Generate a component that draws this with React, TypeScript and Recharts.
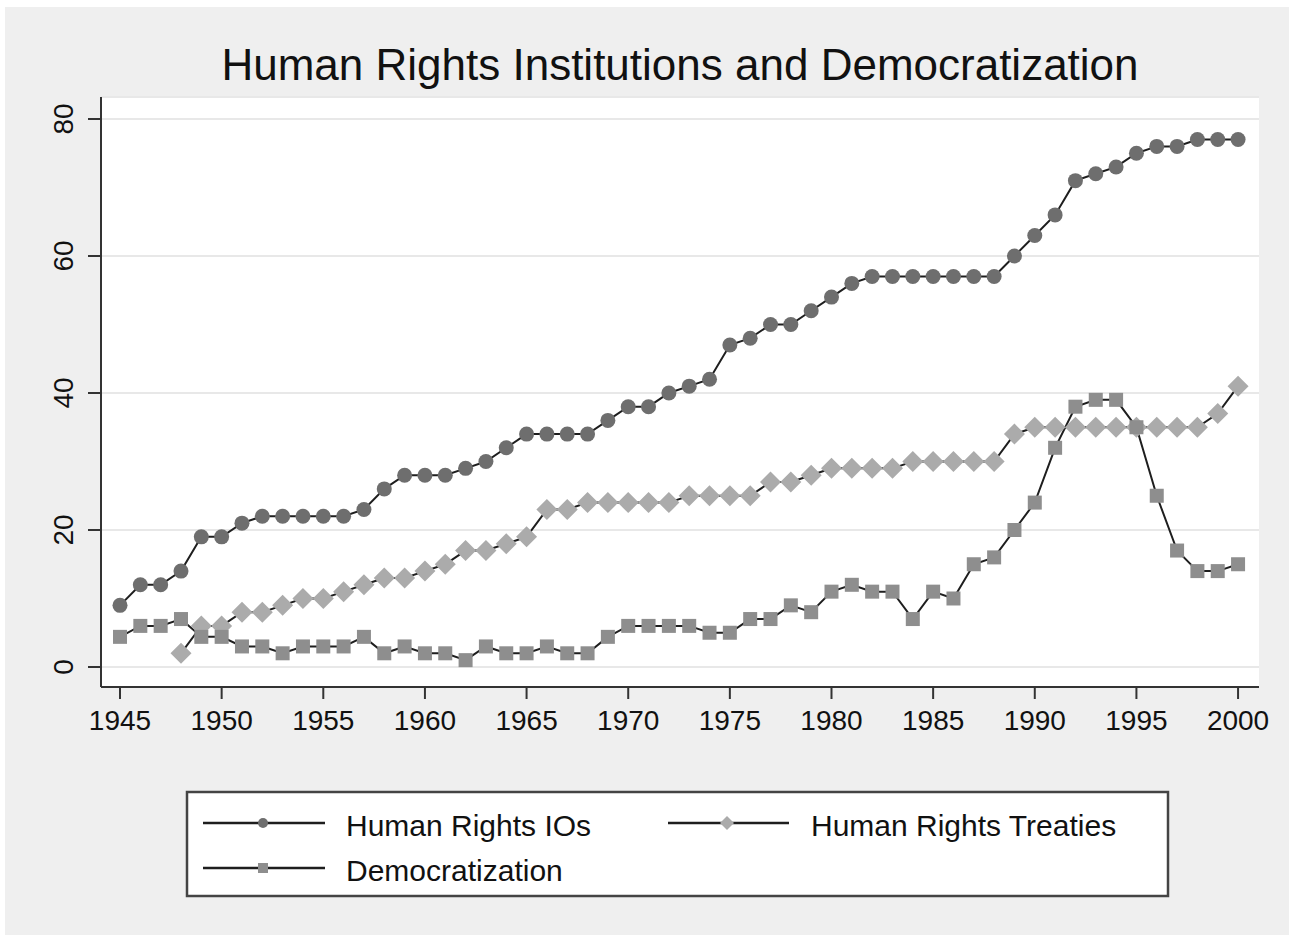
import { CartesianGrid, Line, LineChart, XAxis, YAxis } from "recharts";

const years = [
  1945, 1946, 1947, 1948, 1949, 1950, 1951, 1952, 1953, 1954,
  1955, 1956, 1957, 1958, 1959, 1960, 1961, 1962, 1963, 1964,
  1965, 1966, 1967, 1968, 1969, 1970, 1971, 1972, 1973, 1974,
  1975, 1976, 1977, 1978, 1979, 1980, 1981, 1982, 1983, 1984,
  1985, 1986, 1987, 1988, 1989, 1990, 1991, 1992, 1993, 1994,
  1995, 1996, 1997, 1998, 1999, 2000,
];

const humanRightsIOs = [
  9, 12, 12, 14, 19, 19, 21, 22, 22, 22,
  22, 22, 23, 26, 28, 28, 28, 29, 30, 32,
  34, 34, 34, 34, 36, 38, 38, 40, 41, 42,
  47, 48, 50, 50, 52, 54, 56, 57, 57, 57,
  57, 57, 57, 57, 60, 63, 66, 71, 72, 73,
  75, 76, 76, 77, 77, 77,
];

const humanRightsTreaties = [
  null, null, null, 2, 6, 6, 8, 8, 9, 10,
  10, 11, 12, 13, 13, 14, 15, 17, 17, 18,
  19, 23, 23, 24, 24, 24, 24, 24, 25, 25,
  25, 25, 27, 27, 28, 29, 29, 29, 29, 30,
  30, 30, 30, 30, 34, 35, 35, 35, 35, 35,
  35, 35, 35, 35, 37, 41,
];

const democratization = [
  4.4, 6, 6, 7, 4.4, 4.4, 3, 3, 2, 3,
  3, 3, 4.4, 2, 3, 2, 2, 1, 3, 2,
  2, 3, 2, 2, 4.4, 6, 6, 6, 6, 5,
  5, 7, 7, 9, 8, 11, 12, 11, 11, 7,
  11, 10, 15, 16, 20, 24, 32, 38, 39, 39,
  35, 25, 17, 14, 14, 15,
];

const yTicks = [0, 20, 40, 60, 80];
const xTicks = [1945, 1950, 1955, 1960, 1965, 1970, 1975, 1980, 1985, 1990, 1995, 2000];

const data = years.map((year, i) => ({
  year,
  ios: humanRightsIOs[i],
  treaties: humanRightsTreaties[i],
  democ: democratization[i],
}));

const FONT = "'Liberation Sans', Arial, Helvetica, sans-serif";
const LINE = "#1e1e1e";
const C_IO = "#6e6e6e";
const C_TR = "#ababab";
const C_DE = "#8e8e8e";

const circleDot = (props: any) => {
  const { cx, cy, index } = props;
  if (cx == null || cy == null) return <g key={index} />;
  return <circle key={index} cx={cx} cy={cy} r={7.5} fill={C_IO} />;
};

const diamondDot = (props: any) => {
  const { cx, cy, index, value } = props;
  if (cx == null || cy == null || value == null) return <g key={index} />;
  const s = 10.5;
  return (
    <polygon
      key={index}
      points={`${cx},${cy - s} ${cx + s},${cy} ${cx},${cy + s} ${cx - s},${cy}`}
      fill={C_TR}
    />
  );
};

const squareDot = (props: any) => {
  const { cx, cy, index } = props;
  if (cx == null || cy == null) return <g key={index} />;
  return <rect key={index} x={cx - 7} y={cy - 7} width={14} height={14} fill={C_DE} />;
};

const YTick = (props: any) => {
  const { y, payload } = props;
  const x = 64;
  return (
    <text
      x={x}
      y={y}
      transform={`rotate(-90, ${x}, ${y})`}
      textAnchor="middle"
      dominantBaseline="central"
      fontSize={28}
      fontFamily={FONT}
      fill="#111"
    >
      {payload.value}
    </text>
  );
};

const XTick = (props: any) => {
  const { x, y, payload } = props;
  return (
    <text x={x} y={y} dy={29} textAnchor="middle" fontSize={28} fontFamily={FONT} fill="#111">
      {payload.value}
    </text>
  );
};

function LegendBox() {
  const lx = 187;
  const ly = 792;
  return (
    <svg
      width={1294}
      height={940}
      style={{ position: "absolute", left: 0, top: 0, pointerEvents: "none" }}
    >
      <text x={680} y={80} textAnchor="middle" fontSize={44} fontFamily={FONT} fill="#111">
        Human Rights Institutions and Democratization
      </text>
      <rect x={lx} y={ly} width={981} height={104} fill="#fff" stroke="#444" strokeWidth={2.5} />
      {/* row 1 */}
      <line x1={203} x2={325} y1={823} y2={823} stroke={LINE} strokeWidth={2.5} />
      <circle cx={263} cy={823} r={5} fill={C_IO} />
      <text x={346} y={836} fontSize={30} fontFamily={FONT} fill="#111">
        Human Rights IOs
      </text>
      <line x1={668} x2={789} y1={823} y2={823} stroke={LINE} strokeWidth={2.5} />
      <polygon points="727,816 734,823 727,830 720,823" fill={C_TR} />
      <text x={811} y={836} fontSize={30} fontFamily={FONT} fill="#111">
        Human Rights Treaties
      </text>
      {/* row 2 */}
      <line x1={203} x2={325} y1={868} y2={868} stroke={LINE} strokeWidth={2.5} />
      <rect x={258} y={863} width={10} height={10} fill={C_DE} />
      <text x={346} y={881} fontSize={30} fontFamily={FONT} fill="#111">
        Democratization
      </text>
    </svg>
  );
}

export default function App() {
  return (
    <div style={{ position: "relative", width: 1294, height: 940, background: "#fff" }}>
      <style>{`body{margin:0}`}</style>
      <div
        style={{ position: "absolute", left: 5, top: 7, width: 1284, height: 928, background: "#efefef" }}
      />
      <div style={{ position: "absolute", left: 0, top: 0 }}>
        <LineChart
          width={1294}
          height={940}
          data={data}
          margin={{ top: 97, right: 35, bottom: 193, left: 41 }}
        >
          <CartesianGrid vertical={false} stroke="#e8e8e8" strokeWidth={2} fill="#fff" />
          <XAxis
            dataKey="year"
            type="number"
            domain={[1944.065, 2001.03]}
            ticks={xTicks}
            height={60}
            tickSize={12}
            stroke="#333"
            strokeWidth={2}
            tick={<XTick />}
            interval={0}
          />
          <YAxis
            type="number"
            domain={[-2.92, 83.21]}
            ticks={yTicks}
            width={60}
            tickSize={13}
            stroke="#333"
            strokeWidth={2}
            tick={<YTick />}
            interval={0}
            allowDataOverflow
          />
          <Line
            dataKey="ios"
            stroke={LINE}
            strokeWidth={2}
            dot={circleDot}
            activeDot={false}
            isAnimationActive={false}
            type="linear"
          />
          <Line
            dataKey="treaties"
            stroke={LINE}
            strokeWidth={2}
            dot={diamondDot}
            activeDot={false}
            isAnimationActive={false}
            type="linear"
          />
          <Line
            dataKey="democ"
            stroke={LINE}
            strokeWidth={2}
            dot={squareDot}
            activeDot={false}
            isAnimationActive={false}
            type="linear"
          />
        </LineChart>
      </div>
      <LegendBox />
    </div>
  );
}
